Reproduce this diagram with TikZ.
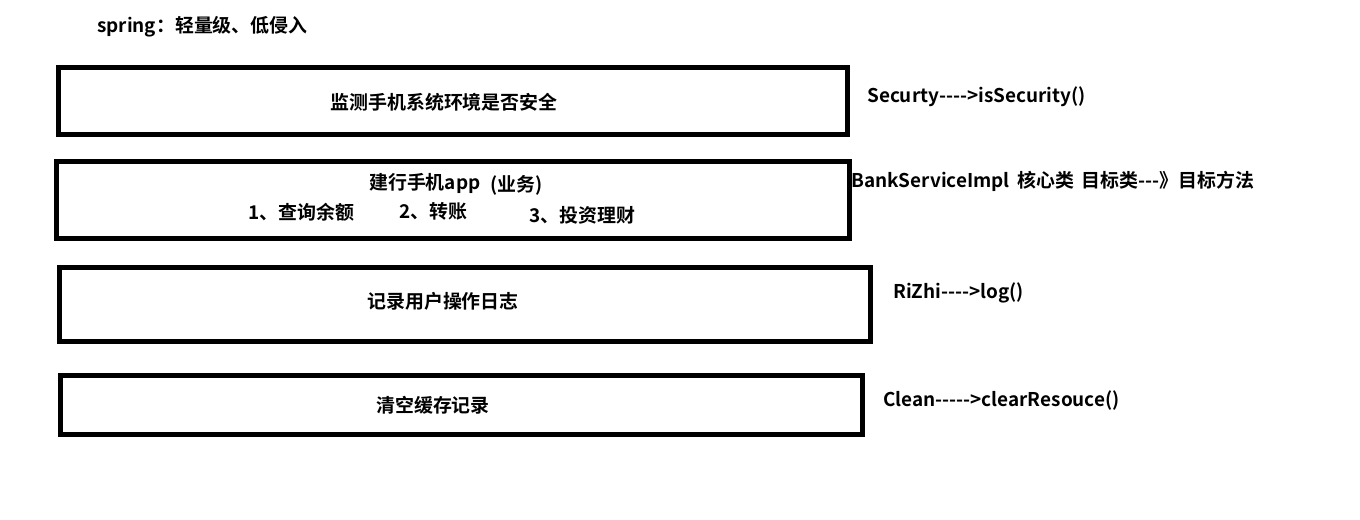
\documentclass[tikz,border=0pt]{standalone}
\usepackage{fontspec}
\setmainfont{Noto Sans CJK SC}[BoldFont={Noto Sans CJK SC Bold},Ligatures=TeXOff]
\begin{document}
\begin{tikzpicture}[x=1bp,y=-1bp,
  box/.style={draw=black,line width=5bp,inner sep=0pt,minimum width=#1},
  txt/.style={inner sep=0pt,font=\fontsize{19}{23}\selectfont\bfseries},
  side/.style={txt,anchor=west}]
\useasboundingbox (0,0) rectangle (1360,520);
\fill[white] (0,0) rectangle (1360,520);
\node[txt,anchor=west] (title) at (97,27) {spring：轻量级、低侵入};
\node[box=788bp,minimum height=67bp] (b1) at (453,101.5) {};
\node[box=792bp,minimum height=76bp] (b2) at (453,200) {};
\node[box=810bp,minimum height=73bp] (b3) at (465,304.5) {};
\node[box=801bp,minimum height=59bp] (b4) at (461.5,404.5) {};
\node[txt] (t1) at (444,102) {监测手机系统环境是否安全};
\node[txt,anchor=west] (t2a) at (369,183) {建行手机app};
\node[txt,anchor=west] (t2b) at (490,185) {(业务)};
\node[txt,anchor=west] (t2c) at (248,212) {1、查询余额};
\node[txt,anchor=west] (t2d) at (399,211) {2、转账};
\node[txt,anchor=west] (t2e) at (529,215) {3、投资理财};
\node[txt] (t3) at (443,301) {记录用户操作日志};
\node[txt] (t4) at (433,405) {清空缓存记录};
\node[side] (s1) at (867,97) {Securty---->isSecurity()};
\node[side] (s2) at (851,181) {BankServiceImpl\hspace{8bp}核心类\hspace{7bp}目标类---》目标方法};
\node[side] (s3) at (893,293) {RiZhi---->log()};
\node[side] (s4) at (883,401) {Clean----->clearResouce()};
\end{tikzpicture}
\end{document}
